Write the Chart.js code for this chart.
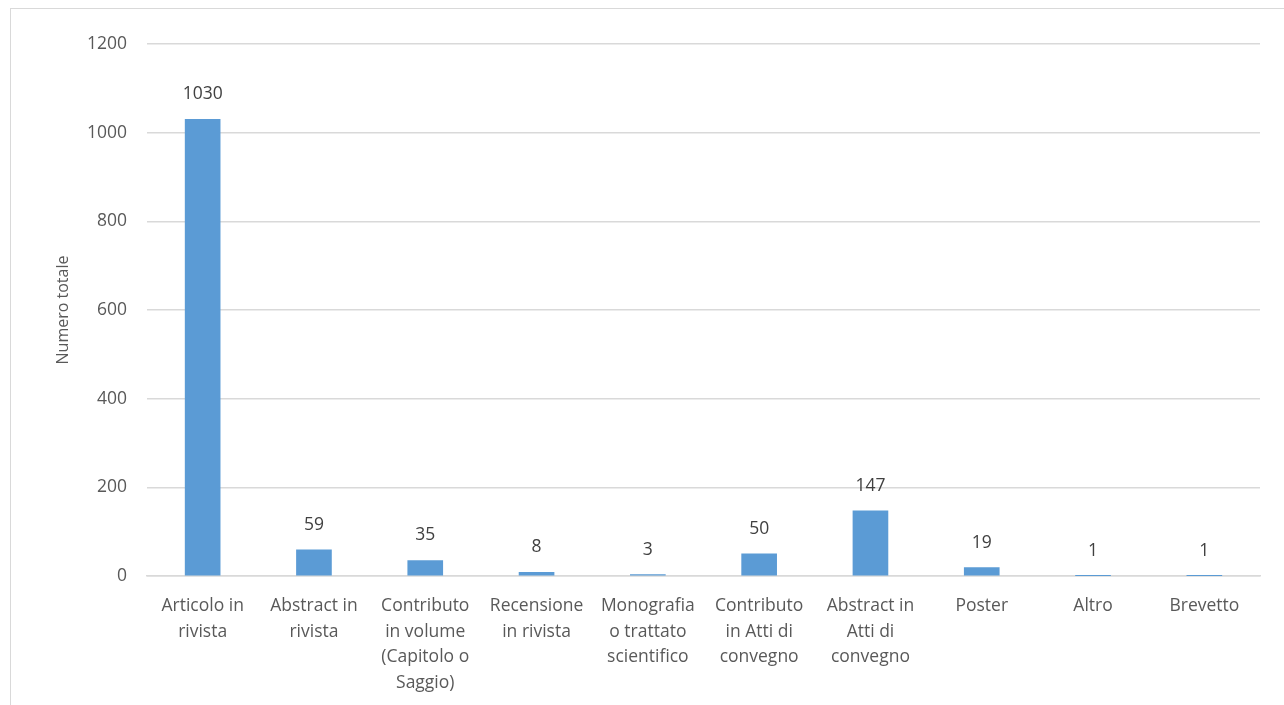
<!DOCTYPE html>
<html>
<head>
<meta charset="utf-8">
<script src="https://cdn.jsdelivr.net/npm/chart.js@4.4.1/dist/chart.umd.min.js"></script>
<style>
  html, body { margin: 0; padding: 0; background: #ffffff; overflow: hidden; }
  #frame {
    position: absolute; left: 10px; top: 8px; width: 1400px; height: 800px;
    border: 1.5px solid #d9d9d9; box-sizing: border-box;
  }
  #wrap { position: absolute; left: 0; top: 0; width: 1284px; height: 705px; }
</style>
</head>
<body>
<div id="frame"></div>
<div id="wrap"><canvas id="chart" width="1284" height="705"></canvas></div>
<script>
// Publication types (multi-line category labels)
const categories = [
  ["Articolo in", "rivista"],
  ["Abstract in", "rivista"],
  ["Contributo", "in volume", "(Capitolo o", "Saggio)"],
  ["Recensione", "in rivista"],
  ["Monografia", "o trattato", "scientifico"],
  ["Contributo", "in Atti di", "convegno"],
  ["Abstract in", "Atti di", "convegno"],
  ["Poster"],
  ["Altro"],
  ["Brevetto"]
];
// Total number of publications per type
const totals = [1030, 59, 35, 8, 3, 50, 147, 19, 1, 1];
// Y-axis range
const yMin = 0;
const yMax = 1200;
const yStep = 200;

const FONT = "'Open Sans', 'Liberation Sans', sans-serif";

// Writes the value above each bar
const valueLabels = {
  id: 'valueLabels',
  afterDatasetsDraw(chart) {
    const ctx = chart.ctx;
    const meta = chart.getDatasetMeta(0);
    ctx.save();
    ctx.font = "17.5px " + FONT;
    ctx.fillStyle = '#404040';
    ctx.textAlign = 'center';
    ctx.textBaseline = 'middle';
    meta.data.forEach((bar, i) => {
      ctx.fillText(String(totals[i]), bar.x, bar.y - 25);
    });
    ctx.restore();
  }
};

new Chart(document.getElementById('chart'), {
  type: 'bar',
  data: {
    labels: categories,
    datasets: [{
      data: totals,
      backgroundColor: '#5b9bd5',
      borderWidth: 0,
      barThickness: 35
    }]
  },
  options: {
    responsive: false,
    animation: false,
    layout: { padding: { left: 0, right: 24, top: 44, bottom: 0 } },
    plugins: {
      legend: { display: false },
      tooltip: { enabled: false }
    },
    scales: {
      x: {
        grid: { display: false, drawTicks: false },
        border: { display: true, color: '#d9d9d9', width: 1.5 },
        ticks: {
          color: '#595959',
          font: { family: FONT, size: 17.5, lineHeight: 1.47 },
          padding: 17,
          maxRotation: 0,
          autoSkip: false
        },
        afterFit(scale) { scale.height = 129; }
      },
      y: {
        min: yMin,
        max: yMax,
        grid: { color: '#d9d9d9', lineWidth: 1.5, drawTicks: false },
        border: { display: false },
        ticks: {
          stepSize: yStep,
          color: '#595959',
          font: { family: FONT, size: 17.5 },
          padding: 20,
          callback: (v) => String(v)
        },
        title: {
          display: true,
          text: 'Numero totale',
          color: '#595959',
          font: { family: FONT, size: 16 },
          padding: { top: 54, bottom: 0 }
        },
        afterFit(scale) { scale.width = 147; }
      }
    }
  },
  plugins: [valueLabels]
});
</script>
</body>
</html>
